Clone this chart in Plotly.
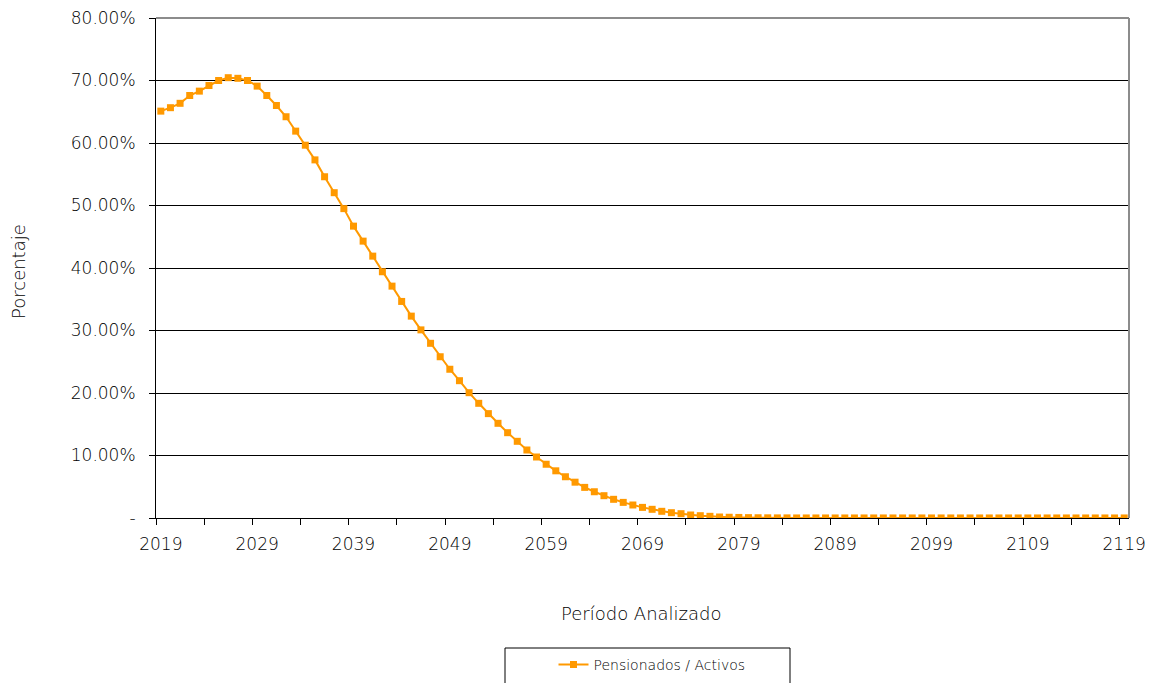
import plotly.graph_objects as go

years = list(range(2019, 2120))
ratio_pct = [
    65.1, 65.65, 66.35, 67.6, 68.3, 69.2, 70.0, 70.45, 70.35, 70.0,
    69.1, 67.6, 66.0, 64.2, 61.9, 59.65, 57.3, 54.6, 52.05, 49.5,
    46.7, 44.3, 41.9, 39.4, 37.1, 34.65, 32.3, 30.1, 27.95, 25.8,
    23.8, 21.97, 20.05, 18.35, 16.7, 15.15, 13.65, 12.27, 10.88, 9.76,
    8.6, 7.55, 6.6, 5.73, 4.9, 4.2, 3.57, 2.99, 2.5, 2.08,
    1.7, 1.39, 1.07, 0.85, 0.69, 0.48, 0.37, 0.27, 0.16, 0.12,
    0.09, 0.06, 0.04, 0.03, 0.02, 0.02, 0.01, 0.01, 0.01, 0.01,
] + [0.01] * 31

x_label_years = list(range(2019, 2120, 10))
y_tick_values = [0, 10, 20, 30, 40, 50, 60, 70, 80]
y_tick_text = ["-"] + [f"{v:.2f}%" for v in y_tick_values[1:]]
series_name = "Pensionados / Activos"

ORANGE = "#FF9900"
TXT = "#000000"
FONT = "DejaVu Sans"
WT = 200

fig = go.Figure()
fig.add_trace(go.Scatter(
    x=years, y=ratio_pct, mode="lines+markers", name=series_name,
    line=dict(color=ORANGE, width=2),
    marker=dict(symbol="square", size=7, color=ORANGE),
))

OFF = 8  # page body margin
W, H = 1153 - OFF, 683 - OFF
L, R, T, B = 156 - OFF, 24, 18 - OFF, 165
pw = W - L - R
ph = H - T - B


def py(y_px):
    """page pixel y -> paper coord"""
    return (518 - y_px) / ph


def px(x_px):
    return (x_px - 156) / pw


fnt = lambda s: dict(size=s, color=TXT, family=FONT, weight=WT)

fig.update_layout(
    width=W, height=H,
    margin=dict(l=L, r=R, t=T, b=B, autoexpand=False),
    paper_bgcolor="white", plot_bgcolor="white",
    font=fnt(17),
    showlegend=True,
    legend=dict(orientation="h", x=px(652), xanchor="center",
                y=py(665), yanchor="middle",
                bgcolor="rgba(0,0,0,0)", font=fnt(14)),
    xaxis=dict(
        range=[2018.5, 2119.5], showgrid=False, zeroline=False,
        showline=True, linecolor="black", linewidth=1,
        tickmode="array", tickvals=x_label_years,
        ticktext=[str(y) for y in x_label_years],
        ticks="", ticklabelstandoff=11, automargin=False,
        ticklabeloverflow="allow",
        tickfont=fnt(17),
        minor=dict(tickmode="array",
                   tickvals=[2018.5 + 5 * k for k in range(21)],
                   ticks="outside", ticklen=6, tickcolor="black",
                   showgrid=False),
    ),
    yaxis=dict(
        range=[0, 80], showgrid=True, gridcolor="black", gridwidth=1,
        zeroline=False, showline=True, linecolor="black", linewidth=1,
        tickmode="array", tickvals=y_tick_values, ticktext=y_tick_text,
        ticks="outside", ticklen=6, tickcolor="black",
        ticklabelstandoff=10, automargin=False,
        ticklabeloverflow="allow",
        tickfont=fnt(17),
    ),
    shapes=[
        dict(type="line", xref="paper", yref="paper", x0=0, x1=1, y0=1, y1=1,
             line=dict(color="#8c8c8c", width=2), layer="above"),
        dict(type="line", xref="paper", yref="paper", x0=1, x1=1, y0=0, y1=1,
             line=dict(color="#8c8c8c", width=2), layer="above"),
        dict(type="rect", xref="paper", yref="paper",
             x0=px(505), x1=px(790), y0=py(648), y1=py(700),
             line=dict(color="black", width=1), fillcolor="rgba(0,0,0,0)",
             layer="above"),
    ],
    annotations=[
        dict(text="Período Analizado", xref="paper", yref="paper",
             x=px(641), y=py(613), xanchor="center",
             yanchor="middle", showarrow=False, font=fnt(18)),
        dict(text="Porcentaje", xref="paper", yref="paper",
             x=px(18), y=py(272), xanchor="center",
             yanchor="middle", textangle=-90, showarrow=False, font=fnt(18)),
    ],
)

fig.write_html("out.html")
